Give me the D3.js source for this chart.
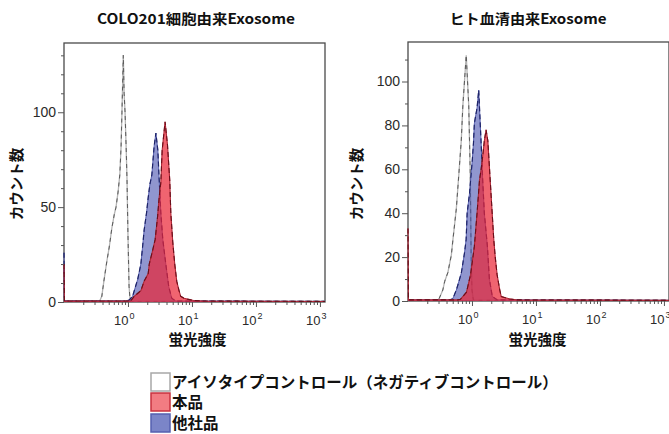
<!DOCTYPE html>
<html><head><meta charset="utf-8">
<script src="https://cdn.jsdelivr.net/npm/d3@7"></script>
<style>body{margin:0;background:#fff}svg{display:block}</style>
</head><body>
<svg id="chart" width="669" height="434"></svg>
<script>
// ---------- data ----------
const panelTitles = ["COLO201細胞由来Exosome", "ヒト血清由来Exosome"];
const yAxisLabel = "カウント数";
const xAxisLabel = "蛍光強度";
const legendLabels = ["アイソタイプコントロール（ネガティブコントロール）", "本品", "他社品"];
const xDomain = [0.1, 1200];
const xMajorTicks = [1, 10, 100, 1000];
const yMaxLeft = 136.5;
const yMaxRight = 118;
const yLabelTicksLeft = [0, 50, 100];
const yLabelTicksRight = [0, 20, 40, 60, 80, 100];

// [fluorescence, count]
const isotypeLeft = [[0.1,0.4],[0.2,0.4],[0.3,0.6],[0.36,0.5],[0.39,3],[0.42,11],[0.47,22],[0.51,29],[0.56,39],[0.61,46],[0.65,50],[0.7,58],[0.745,67],[0.78,82],[0.805,100],[0.845,130],[0.87,110],[0.9,100],[0.935,82],[0.965,65],[1.0,35],[1.04,8],[1.08,1],[1.15,0.3],[1200,0.3]];
const otherLeft = [[0.1,26],[0.1015,0.5],[0.9,0.5],[1.04,1],[1.18,3],[1.42,12],[1.59,20],[1.69,29],[1.79,38],[1.95,47],[2.07,55],[2.2,62],[2.36,67],[2.56,82],[2.73,89],[2.93,80],[3.07,65],[3.26,47],[3.5,33],[3.9,20],[4.34,8],[4.83,2],[5.6,0.5],[1200,0.3]];
const oursLeft = [[0.1,20],[0.1015,0.5],[1.1,0.5],[1.25,3],[1.59,6],[1.79,11],[2.07,15],[2.15,20],[2.42,27],[2.66,33],[2.9,45],[3.07,55],[3.26,63],[3.42,80],[3.8,95],[4.14,83],[4.5,64],[4.67,47],[5.0,32],[5.38,20],[5.6,15],[5.78,11],[6.28,6],[6.67,3],[7.5,2],[8.5,1.5],[10.6,0.8],[15,0.5],[1200,0.3]];

const isotypeRight = [[0.1,0.3],[0.28,0.3],[0.3,0.5],[0.35,5],[0.375,9],[0.42,13],[0.476,21],[0.504,28],[0.569,42],[0.624,58],[0.68,73],[0.72,89],[0.813,112],[0.89,89],[0.915,73],[0.94,58],[0.955,40],[0.97,20],[1.0,5],[1.05,0.5],[1.1,0.3],[1200,0.3]];
const otherRight = [[0.1,0.5],[0.45,0.5],[0.5,1],[0.57,5],[0.64,10],[0.68,12.6],[0.765,22],[0.81,28],[0.84,40],[0.915,49],[0.97,58],[1.01,64],[1.055,72],[1.09,81],[1.2,88],[1.275,96],[1.34,82],[1.4,70],[1.47,55],[1.56,40],[1.74,25],[1.87,10],[2.08,2],[2.5,0.5],[1200,0.3]];
const oursRight = [[0.1,33],[0.1015,0.5],[0.6,0.5],[0.66,0.8],[0.82,4],[0.95,12],[1.09,25],[1.2,40],[1.31,55],[1.39,60],[1.47,66],[1.56,73],[1.66,78],[1.77,73],[1.9,58],[2.04,43],[2.19,28],[2.31,20],[2.47,12],[2.72,5],[2.87,2],[3.8,1],[4.9,0.5],[1200,0.3]];

// ---------- drawing ----------
const svg = d3.select("#chart");
const tickFont = "'Liberation Sans', Arial, sans-serif";
const jpFont = "'Noto Sans CJK JP', 'Noto Sans', sans-serif";

const panels = [
  {x0:64, x1:325, y0:43, y1:302, ymax:yMaxLeft, labelTicks:yLabelTicksLeft, iso:isotypeLeft, other:otherLeft, ours:oursLeft, title:panelTitles[0], titleX:196, titleLen:198, ylabX:16.5, xlabX:197.5},
  {x0:408, x1:669, y0:42, y1:301, ymax:yMaxRight, labelTicks:yLabelTicksRight, iso:isotypeRight, other:otherRight, ours:oursRight, title:panelTitles[1], titleX:528, titleLen:157, ylabX:356.5, xlabX:537.5}
];

const xMinor = [];
for (let e = -1; e <= 2; e++) for (let k = 2; k <= 9; k++) xMinor.push(k * Math.pow(10, e));

panels.forEach((p, i) => {
  const x = d3.scaleLog().domain(xDomain).range([p.x0, p.x1]);
  const y = d3.scaleLinear().domain([0, p.ymax]).range([p.y1, p.y0]);
  const g = svg.append("g");

  // frame (drawn first so the histogram spikes sit over it, as in the reference)
  g.append("rect").attr("x", p.x0).attr("y", p.y0)
    .attr("width", p.x1 - p.x0).attr("height", p.y1 - p.y0)
    .attr("fill", "none").attr("stroke", "#4a4a4a").attr("stroke-width", 1.3);

  const cid = "clip" + i;
  svg.append("clipPath").attr("id", cid).append("rect")
    .attr("x", p.x0 - 1.2).attr("y", p.y0).attr("width", p.x1 - p.x0 + 1.2).attr("height", p.y1 - p.y0 + 0.6);

  const area = d3.area().x(d => x(d[0])).y0(y(0)).y1(d => y(d[1]));
  const line = d3.line().x(d => x(d[0])).y(d => y(d[1]));
  const pg = g.append("g").attr("clip-path", `url(#${cid})`);

  // isotype control (outline only)
  pg.append("path").datum(p.iso).attr("d", line).attr("fill", "none")
    .attr("stroke", "#b4b4b4").attr("stroke-width", 1.3);
  pg.append("path").datum(p.iso).attr("d", line).attr("fill", "none")
    .attr("stroke", "#5a5a5a").attr("stroke-width", 1).attr("stroke-dasharray", "4,4");
  // other company (blue)
  pg.append("path").datum(p.other).attr("d", area).attr("fill", "rgba(70,80,175,0.6)");
  pg.append("path").datum(p.other).attr("d", line).attr("fill", "none")
    .attr("stroke", "#5860b0").attr("stroke-width", 1);
  pg.append("path").datum(p.other).attr("d", line).attr("fill", "none")
    .attr("stroke", "#1e2468").attr("stroke-width", 1.2).attr("stroke-dasharray", "5,3");
  // this product (red)
  pg.append("path").datum(p.ours).attr("d", area).attr("fill", "rgba(234,34,51,0.7)");
  pg.append("path").datum(p.ours).attr("d", line).attr("fill", "none")
    .attr("stroke", "#b02535").attr("stroke-width", 1.1);
  pg.append("path").datum(p.ours).attr("d", line).attr("fill", "none")
    .attr("stroke", "#6a0f1a").attr("stroke-width", 1.1).attr("stroke-dasharray", "5,3");

  // y axis ticks
  const yMinor = d3.range(0, p.ymax, 10).filter(v => !p.labelTicks.includes(v));
  const yMin = g.append("g").attr("transform", `translate(${p.x0},0)`)
    .call(d3.axisLeft(y).tickValues(yMinor).tickSize(3).tickFormat(""));
  const yMaj = g.append("g").attr("transform", `translate(${p.x0},0)`)
    .call(d3.axisLeft(y).tickValues(p.labelTicks).tickSize(6).tickPadding(2).tickFormat(d3.format("d")));
  [yMin, yMaj].forEach(a => {
    a.select(".domain").remove();
    a.selectAll("line").attr("stroke", "#555");
    a.selectAll("text").attr("fill", "#2a2a2a").style("font-family", tickFont).style("font-size", "14px");
  });

  // x axis ticks
  const xMin = g.append("g").attr("transform", `translate(0,${p.y1})`)
    .call(d3.axisBottom(x).tickValues(xMinor).tickSize(3).tickFormat(""));
  const xMaj = g.append("g").attr("transform", `translate(0,${p.y1})`)
    .call(d3.axisBottom(x).tickValues(xMajorTicks).tickSize(5).tickFormat(""));
  [xMin, xMaj].forEach(a => {
    a.select(".domain").remove();
    a.selectAll("line").attr("stroke", "#555");
  });
  xMaj.selectAll(".tick").each(function(d) {
    const t = d3.select(this);
    t.append("text").attr("x", 0).attr("y", 23).attr("text-anchor", "end")
      .attr("fill", "#2a2a2a").style("font-family", tickFont).style("font-size", "13px").text("10");
    t.append("text").attr("x", 1).attr("y", 17).attr("text-anchor", "start")
      .attr("fill", "#2a2a2a").style("font-family", tickFont).style("font-size", "9px")
      .text(Math.round(Math.log10(d)));
  });

  // title
  svg.append("text").attr("x", p.titleX).attr("y", 24).attr("text-anchor", "middle")
    .attr("textLength", p.titleLen).attr("lengthAdjust", "spacingAndGlyphs")
    .style("font-family", jpFont).style("font-weight", "bold").style("font-size", "14px")
    .attr("fill", "#111").text(p.title);

  // axis labels
  svg.append("text").attr("transform", `translate(${p.ylabX},184) rotate(-90)`)
    .attr("text-anchor", "middle").attr("dy", "0.35em")
    .style("font-family", jpFont).style("font-weight", "bold").style("font-size", "14.5px")
    .attr("fill", "#111").text(yAxisLabel);
  svg.append("text").attr("x", p.xlabX).attr("y", 340).attr("dy", "0.35em")
    .attr("text-anchor", "middle")
    .style("font-family", jpFont).style("font-weight", "bold").style("font-size", "14.5px")
    .attr("fill", "#111").text(xAxisLabel);
});

// legend
const legendStyles = [
  {fill: "#ffffff", stroke: "#a8a8a8"},
  {fill: "#f27c82", stroke: "#c8323f"},
  {fill: "#7b85c8", stroke: "#5560b0"}
];
const lg = svg.append("g");
const rowY = [373, 393, 414];
legendLabels.forEach((lab, i) => {
  lg.append("rect").attr("x", 151).attr("y", rowY[i]).attr("width", 19).attr("height", 18)
    .attr("fill", legendStyles[i].fill).attr("stroke", legendStyles[i].stroke).attr("stroke-width", 1.5);
  lg.append("text").attr("x", 172).attr("y", rowY[i] + 9).attr("dy", "0.36em")
    .style("font-family", jpFont).style("font-weight", "bold").style("font-size", "15.5px")
    .attr("fill", "#111").text(lab);
});
</script>
</body></html>
